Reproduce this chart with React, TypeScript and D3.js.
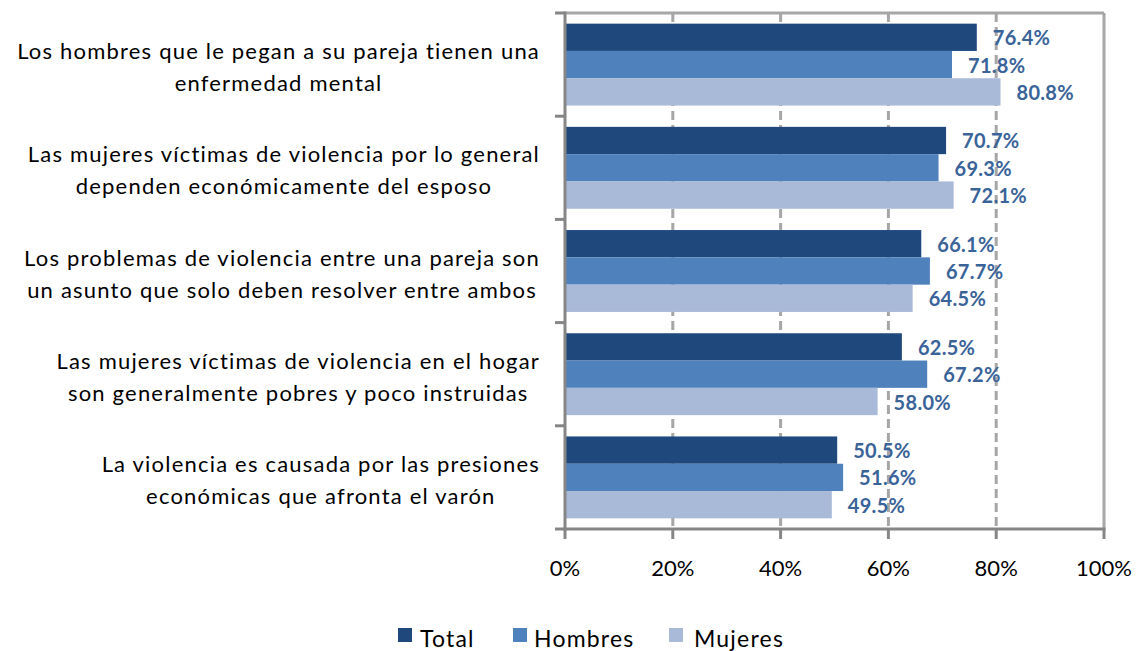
import React, { useEffect, useRef } from "react";
import * as d3 from "d3";

const categories: string[][] = [
  ["Los hombres que le pegan a su pareja tienen una", "enfermedad mental"],
  ["Las mujeres víctimas de violencia por lo general", "dependen económicamente del esposo"],
  ["Los problemas de violencia entre una pareja son", "un asunto que solo deben resolver entre ambos"],
  ["Las mujeres víctimas de violencia en el hogar", "son generalmente pobres y poco instruidas"],
  ["La violencia es causada por las presiones", "económicas que afronta el varón"],
];
const seriesNames = ["Total", "Hombres", "Mujeres"];
const total = [76.4, 70.7, 66.1, 62.5, 50.5];
const hombres = [71.8, 69.3, 67.7, 67.2, 51.6];
const mujeres = [80.8, 72.1, 64.5, 58.0, 49.5];
const xTicks = [0, 20, 40, 60, 80, 100];
const colors = ["#1F497D", "#4F81BD", "#A9B9D8"];

const W = 1136;
const H = 651;
const FONT = "Lato, 'Open Sans', sans-serif";

export default function App() {
  const ref = useRef<SVGSVGElement | null>(null);

  useEffect(() => {
    const svg = d3.select(ref.current);
    svg.selectAll("*").remove();

    const left = 565, right = 1104, top = 13, bottom = 529;
    const x = d3.scaleLinear().domain([0, 100]).range([left, right]);
    const y0 = d3.scaleBand<number>().domain(d3.range(categories.length)).range([top, bottom]);
    const y1 = d3.scaleBand<string>().domain(seriesNames).range([0, y0.bandwidth()]).paddingOuter(0.39);
    const values = [total, hombres, mujeres];

    // gridlines
    svg.append("g").selectAll("line").data(xTicks.filter(t => t > 0 && t < 100)).join("line")
      .attr("x1", d => x(d)).attr("x2", d => x(d)).attr("y1", top).attr("y2", bottom)
      .attr("stroke", "#A6A6A6").attr("stroke-width", 3).attr("stroke-dasharray", "9,5");

    // top and right border
    svg.append("line").attr("x1", left).attr("x2", right).attr("y1", top).attr("y2", top)
      .attr("stroke", "#A6A6A6").attr("stroke-width", 3);
    svg.append("line").attr("x1", right).attr("x2", right).attr("y1", top).attr("y2", bottom)
      .attr("stroke", "#A6A6A6").attr("stroke-width", 3);

    // bars
    categories.forEach((_, ci) => {
      seriesNames.forEach((s, si) => {
        const v = values[si][ci];
        const yy = (y0(ci) as number) + (y1(s) as number);
        svg.append("rect").attr("x", x(0)).attr("y", yy)
          .attr("width", x(v) - x(0)).attr("height", y1.bandwidth())
          .attr("fill", colors[si]);
        svg.append("text").attr("x", x(v) + 16).attr("y", yy + y1.bandwidth() / 2)
          .attr("dominant-baseline", "central")
          .attr("font-family", FONT).attr("font-weight", "bold").attr("font-size", 20)
          .attr("letter-spacing", 0.3)
          .attr("fill", "#3A6399").text(v.toFixed(1) + "%");
      });
    });

    // axes
    svg.append("line").attr("x1", left).attr("x2", left).attr("y1", top - 1.5).attr("y2", bottom + 1.5)
      .attr("stroke", "#868686").attr("stroke-width", 3);
    svg.append("line").attr("x1", left - 1.5).attr("x2", right + 1.5).attr("y1", bottom).attr("y2", bottom)
      .attr("stroke", "#868686").attr("stroke-width", 3);
    const catTicks = d3.range(categories.length + 1).map(i => top + i * y0.step());
    svg.append("g").selectAll("line").data(catTicks).join("line")
      .attr("x1", left - 10).attr("x2", left).attr("y1", d => d).attr("y2", d => d)
      .attr("stroke", "#868686").attr("stroke-width", 3);
    svg.append("g").selectAll("line").data(xTicks).join("line")
      .attr("x1", d => x(d)).attr("x2", d => x(d)).attr("y1", bottom).attr("y2", bottom + 10)
      .attr("stroke", "#868686").attr("stroke-width", 3);
    svg.append("g").selectAll("text").data(xTicks).join("text")
      .attr("x", d => x(d)).attr("y", 567).attr("text-anchor", "middle")
      .attr("dominant-baseline", "central")
      .attr("font-family", FONT).attr("font-size", 22).attr("fill", "#000")
      .text(d => d + "%");

    // category labels
    const labelRight = 540;
    categories.forEach((lines, ci) => {
      const cy = (y0(ci) as number) + y0.bandwidth() / 2 + 2;
      const g = svg.append("g");
      const texts = lines.map((ln, li) =>
        g.append("text").attr("y", cy + (li - (lines.length - 1) / 2) * 32)
          .attr("dominant-baseline", "central").attr("text-anchor", "middle")
          .attr("font-family", FONT).attr("font-size", 22).attr("letter-spacing", 1.2)
          .attr("fill", "#000").text(ln)
      );
      const maxW = d3.max(texts, t => (t.node() as SVGTextElement).getComputedTextLength()) || 0;
      texts.forEach(t => t.attr("x", labelRight - maxW / 2));
    });

    // legend
    const legendItems = [
      { name: "Total", sx: 398, tx: 420 },
      { name: "Hombres", sx: 513, tx: 534 },
      { name: "Mujeres", sx: 669, tx: 694 },
    ];
    legendItems.forEach((it, i) => {
      svg.append("rect").attr("x", it.sx).attr("y", 628).attr("width", 14).attr("height", 14).attr("fill", colors[i]);
      svg.append("text").attr("x", it.tx).attr("y", 638).attr("dominant-baseline", "central")
        .attr("font-family", FONT).attr("font-size", 23).attr("letter-spacing", 1.2)
        .attr("fill", "#000").text(seriesNames[i]);
    });
  }, []);

  return (
    <svg ref={ref} width={W} height={H} style={{ position: "absolute", left: 0, top: 0, background: "#fff" }} />
  );
}
